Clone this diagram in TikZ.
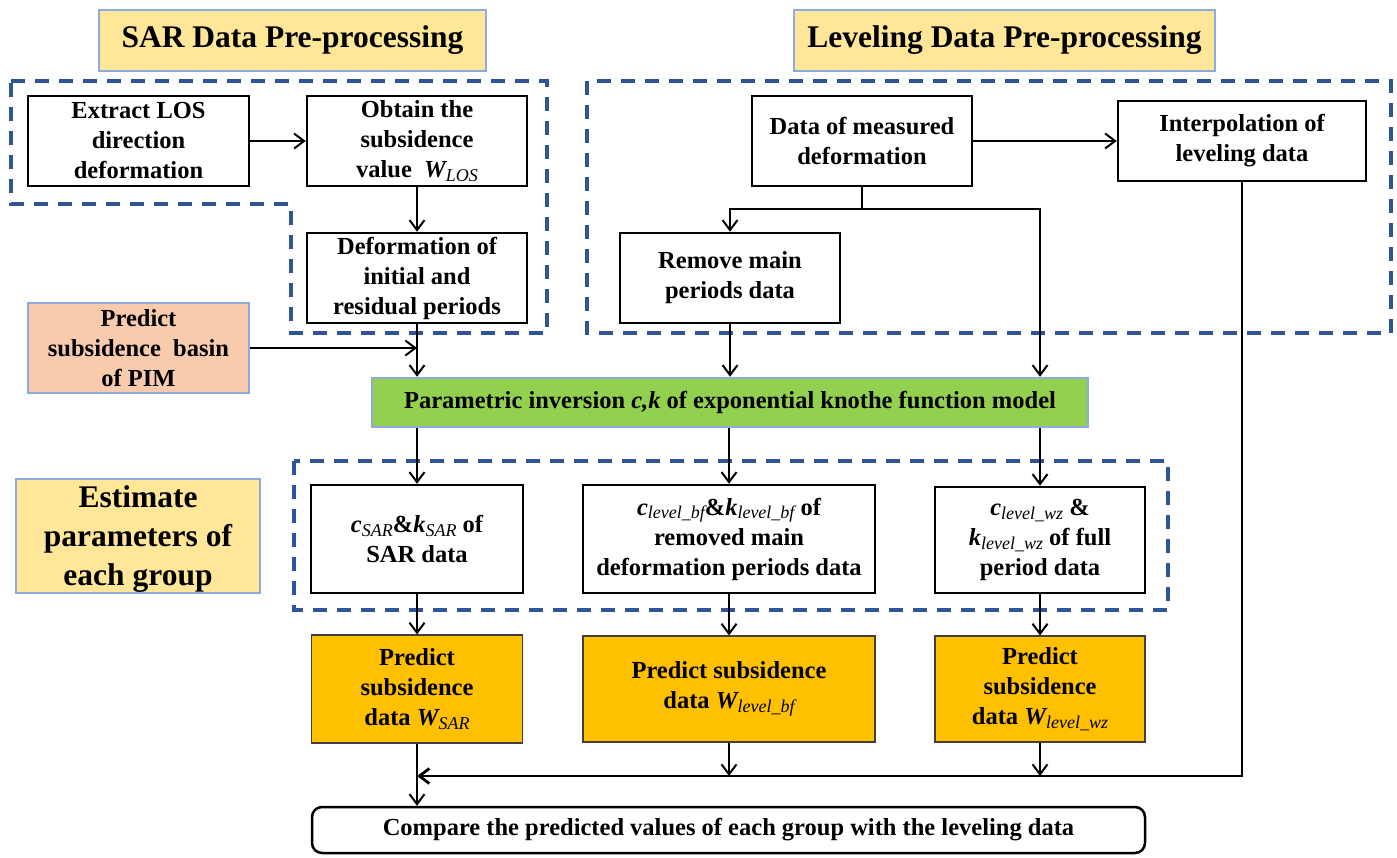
\documentclass[tikz,border=0pt]{standalone}
\usepackage{fontspec}
\setmainfont{Liberation Serif}
\usetikzlibrary{arrows.meta}
\definecolor{dashblue}{HTML}{2F5597}
\definecolor{lightframe}{HTML}{8FAADC}
\definecolor{titleyellow}{HTML}{FFE699}
\definecolor{pimorange}{HTML}{F8CBAD}
\definecolor{greenfill}{HTML}{92D050}
\definecolor{predfill}{HTML}{FFC000}
\newcommand\myfont{\bfseries\fontsize{24.5}{30}\selectfont}
\newcommand\mytitlefont{\bfseries\fontsize{31.5}{39}\selectfont}
\newcommand\sbx[2]{{\itshape #1\raisebox{-0.35ex}{\fontsize{18}{18}\selectfont\mdseries #2}}}
\begin{document}
\begin{tikzpicture}[x=1pt,y=-1pt,
  box/.style={draw, line width=2.5pt, fill=white, inner sep=2pt, align=center, font=\myfont},
  titlebox/.style={draw=lightframe, line width=2.5pt, fill=titleyellow, inner sep=2pt, align=center, font=\mytitlefont},
  pimbox/.style={draw=lightframe, line width=2.5pt, fill=pimorange, inner sep=2pt, align=center, font=\myfont},
  greenbox/.style={draw=lightframe, line width=2.5pt, fill=greenfill, inner sep=2pt, align=center, font=\myfont},
  predbox/.style={draw=black!75, line width=1.2pt, fill=predfill, inner sep=2pt, align=center, font=\myfont},
  cmpbox/.style={draw, line width=2.5pt, fill=white, rounded corners=10pt, inner sep=2pt, align=center, font=\myfont},
  region/.style={draw=dashblue, line width=3.5pt, dash pattern=on 14pt off 10pt},
  arr/.style={draw, line width=2pt, -{Straight Barb[length=10pt,width=15pt]}},
  ln/.style={draw, line width=2pt}
]
\useasboundingbox (0,0) rectangle (1397,857);

% dashed regions
\draw[region] (11,81) -- (547,81) -- (547,333) -- (291,333) -- (291,204) -- (11,204) -- cycle;
\draw[region] (587,81) rectangle (1391,333);
\draw[region] (294,461) rectangle (1168,610);

% titles
\node[titlebox, minimum width=387pt, minimum height=61pt] (tsar) at (292.5,40.5) {SAR Data Pre-processing};
\node[titlebox, minimum width=421pt, minimum height=61pt] (tlev) at (1004.5,40.5) {Leveling Data Pre-processing};
\node[titlebox, minimum width=244pt, minimum height=114pt, text depth=0pt] (est) at (138,536) {Estimate\\parameters of\\each group};

% SAR part
\node[box, minimum width=221pt, minimum height=90pt] (extract) at (138.5,141) {Extract LOS\\direction\\deformation};
\node[box, minimum width=220pt, minimum height=90pt] (obtain) at (417,141) {Obtain the\\subsidence\\value \ \sbx{W}{LOS}};
\node[box, minimum width=220pt, minimum height=90pt] (deform) at (417,278) {Deformation of\\initial and\\residual periods};
\node[pimbox, minimum width=221pt, minimum height=90pt] (pim) at (138.5,348) {Predict\\subsidence \ basin\\of PIM};

% Leveling part
\node[box, minimum width=220pt, minimum height=90pt] (datam) at (862,141) {Data of measured\\deformation};
\node[box, minimum width=248pt, minimum height=80pt] (interp) at (1242,141) {Interpolation of\\leveling data};
\node[box, minimum width=220pt, minimum height=90pt] (remove) at (730,278) {Remove main\\periods data};

% inversion
\node[greenbox, minimum width=716pt, minimum height=49pt] (green) at (730,402.5) {Parametric inversion \textit{c,k} of exponential knothe function model};

% parameters
\node[box, minimum width=212pt, minimum height=108pt] (csar) at (417,539) {\sbx{c}{SAR}\&\sbx{k}{SAR} of\\SAR data};
\node[box, minimum width=292pt, minimum height=108pt] (cbf) at (729,539) {\sbx{c}{level\_bf}\&\sbx{k}{level\_bf} of\\removed main\\deformation periods data};
\node[box, minimum width=210pt, minimum height=106pt] (cwz) at (1040,540) {\sbx{c}{level\_wz} \&\\\sbx{k}{level\_wz} of full\\period data};

% predictions
\node[predbox, minimum width=211pt, minimum height=108pt] (psar) at (417,689) {Predict\\subsidence\\data \sbx{W}{SAR}};
\node[predbox, minimum width=292pt, minimum height=106pt] (pbf) at (729,689) {Predict subsidence\\data \sbx{W}{level\_bf}};
\node[predbox, minimum width=210pt, minimum height=106pt] (pwz) at (1040,689) {Predict\\subsidence\\data \sbx{W}{level\_wz}};

% compare
\node[cmpbox, minimum width=833pt, minimum height=46pt] (cmp) at (728.5,830) {Compare the predicted values of each group with the leveling data};

% connectors
\coordinate (br) at (862,209);
\coordinate (join) at (417,776);
\coordinate (corner) at (1242,776);

\draw[arr] (extract.east) -- (obtain.west);
\draw[arr] (obtain.south) -- (deform.north);
\draw[arr] (deform.south) -- (deform.south |- green.north);
\draw[arr] (pim.east |- 0,348) -- (deform.south |- 0,348);

\draw[arr] (datam.east) -- (interp.west);
\draw[ln] (datam.south) -- (br);
\draw[arr] (br) -| (remove.north);
\draw[arr] (br) -| (cwz.north |- green.north);
\draw[arr] (remove.south) -- (remove.south |- green.north);

\draw[arr] (green.south -| csar.north) -- (csar.north);
\draw[arr] (green.south -| cbf.north) -- (cbf.north);
\draw[arr] (green.south -| cwz.north) -- (cwz.north);

\draw[arr] (csar.south) -- (psar.north);
\draw[arr] (cbf.south) -- (pbf.north);
\draw[arr] (cwz.south) -- (pwz.north);

\draw[ln] (interp.south) -- ([yshift=-1.4pt]corner);
\draw[arr, line width=2.8pt] ([xshift=1pt]corner) -- (join);
\draw[arr] (pbf.south) -- (pbf.south |- join);
\draw[arr] (pwz.south) -- (pwz.south |- join);
\draw[arr] (psar.south) -- (cmp.north -| psar.south);
\end{tikzpicture}
\end{document}
